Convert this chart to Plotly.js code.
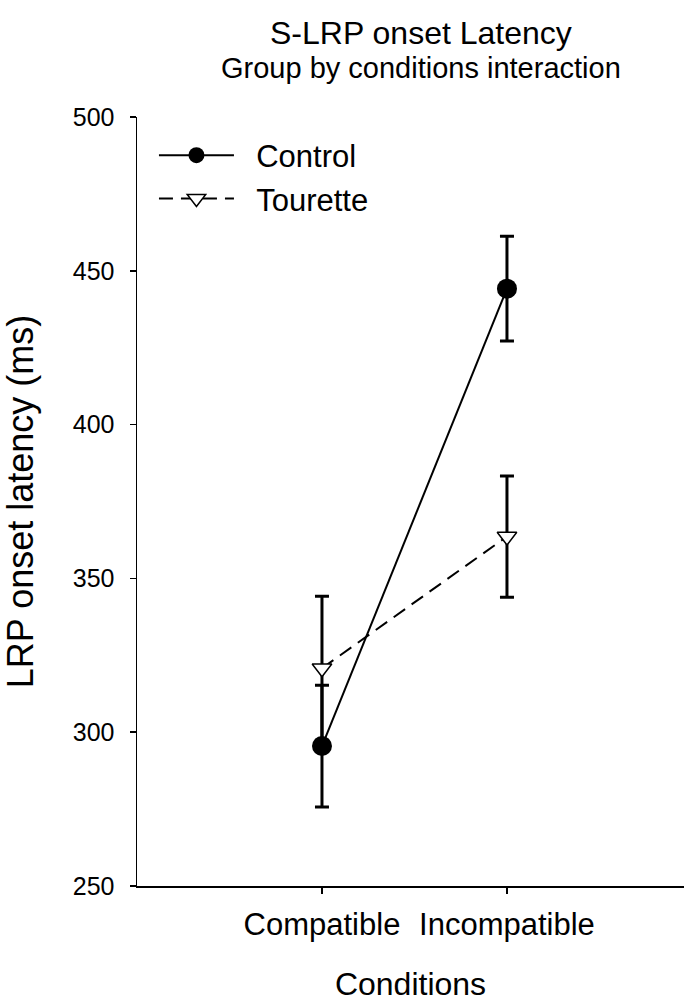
<!DOCTYPE html>
<html>
<head>
<meta charset="utf-8">
<script src="https://cdn.plot.ly/plotly-3.0.1.min.js"></script>
<style>html,body{margin:0;padding:0;background:#fff;}#chart{width:684px;height:1002px;}</style>
</head>
<body>
<div id="chart"></div>
<script>
// Data
const conditions = ["Compatible", "Incompatible"];
const controlMean = [295.5, 444.2];
const controlErr = [19.8, 17.0];
const touretteMean = [320.8, 363.6];
const touretteErr = [23.4, 19.7];
const yTicks = [250, 300, 350, 400, 450, 500];
const titleLines = ["S-LRP onset Latency", "Group by conditions interaction"];

const FONT = "Liberation Sans, Arial, sans-serif";
const PAD = "\u00a0\u00a0";

const traces = [
  {
    x: conditions, y: touretteMean, name: PAD + "Tourette", type: "scatter", mode: "lines+markers",
    line: {color: "#000", width: 2, dash: "14px,8px"},
    marker: {symbol: "triangle-down", size: 17, color: "#fff", line: {color: "#000", width: 1.5}},
    error_y: {type: "data", array: touretteErr, visible: true, color: "#000", thickness: 3, width: 7}
  },
  {
    x: conditions, y: controlMean, name: PAD + "Control", type: "scatter", mode: "lines+markers",
    line: {color: "#000", width: 2},
    marker: {symbol: "circle", size: 20, color: "#000"},
    error_y: {type: "data", array: controlErr, visible: true, color: "#000", thickness: 3, width: 7}
  }
];

const layout = {
  width: 684, height: 1002,
  margin: {l: 137, r: 0, t: 117, b: 116},
  paper_bgcolor: "#fff", plot_bgcolor: "#fff",
  font: {family: FONT, color: "#000"},
  showlegend: true,
  legend: {
    x: 0.031, y: 0.985, xanchor: "left", yanchor: "top",
    traceorder: "reversed",
    font: {size: 31, family: FONT, color: "#000"},
    itemwidth: 75, tracegroupgap: 0,
    bgcolor: "rgba(0,0,0,0)"
  },
  annotations: [
    {text: titleLines[0], xref: "paper", yref: "paper", x: (421 - 137) / 547, y: 1 + (117 - 33) / 769,
     xanchor: "center", yanchor: "middle", showarrow: false, font: {size: 32, family: FONT, color: "#000"}},
    {text: titleLines[1], xref: "paper", yref: "paper", x: (421 - 137) / 547, y: 1 + (117 - 68) / 769,
     xanchor: "center", yanchor: "middle", showarrow: false, font: {size: 29, family: FONT, color: "#000"}}
  ],
  xaxis: {
    type: "category", range: [-1, 1.957],
    showline: true, linecolor: "#000", linewidth: 1.5,
    ticks: "outside", ticklen: 6, tickwidth: 1.5, tickcolor: "#000",
    showgrid: false, zeroline: false,
    tickfont: {size: 31, family: FONT, color: "#000"},
    ticklabelstandoff: 4,
    title: {text: "Conditions", font: {size: 32, family: FONT, color: "#000"}, standoff: 36}
  },
  yaxis: {
    range: [250, 500], tickvals: yTicks, ticktext: yTicks.map(String),
    showline: true, linecolor: "#000", linewidth: 1.5,
    ticks: "outside", ticklen: 6, tickwidth: 1.5, tickcolor: "#000",
    showgrid: false, zeroline: false,
    tickfont: {size: 25, family: FONT, color: "#000"},
    ticklabelstandoff: 10,
    title: {text: "LRP onset latency (ms)", font: {size: 36, family: FONT, color: "#000"}, standoff: 28}
  }
};

Plotly.newPlot("chart", traces, layout, {staticPlot: true, displayModeBar: false});
</script>
</body>
</html>
